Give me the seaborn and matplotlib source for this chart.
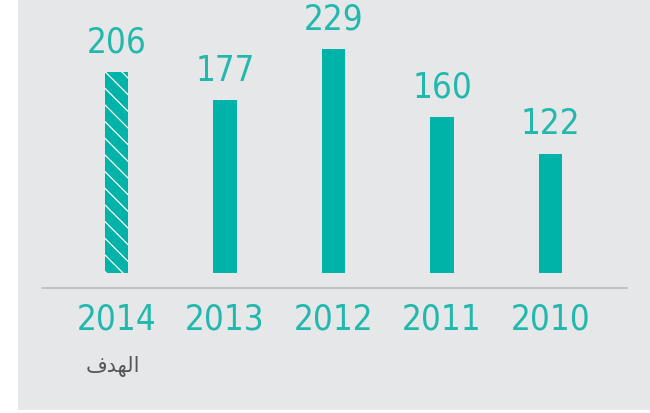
import matplotlib
matplotlib.use("Agg")
import matplotlib.pyplot as plt
import seaborn as sns
import pandas as pd

# data
years = ["2014", "2013", "2012", "2011", "2010"]
values = [206, 177, 229, 160, 122]
target_label = "\uFED1\uFEAA\uFEEC\uFEDF\uFE8D"  # "الهدف" pre-shaped, visual order

bar_color = "#00b3a9"
text_color = "#22b8ad"
panel_color = "#e6e7e9"

sns.set_style("white")
plt.rcParams["font.family"] = ["DejaVu Sans"]
plt.rcParams["hatch.linewidth"] = 0.9

df = pd.DataFrame({"year": years, "value": values})

fig = plt.figure(figsize=(6.5, 4.13), dpi=100, facecolor="white")
ax = fig.add_axes([18 / 650, 3 / 413, 632 / 650, 410 / 413])
ax.set_facecolor(panel_color)

sns.barplot(data=df, x="year", y="value", order=years, color=bar_color,
            saturation=1, width=0.215, linewidth=0, ax=ax)

# first bar (target) is hatched
p0 = ax.patches[0]
p0.set_hatch("\\\\")
p0.set_edgecolor("white")
p0.set_linewidth(0)

num_font = dict(fontsize=25, color=text_color, fontstretch="condensed",
                fontweight="light")

for i, v in enumerate(values):
    ax.annotate(str(v), (i, v), xytext=(0, 9), textcoords="offset points",
                ha="center", va="bottom", **num_font)

ax.set_xlim(-0.908, 4.917)
ax.set_ylim(-140.2, 279.4)

# baseline rule under bars
ax.axhline(-15.4, xmin=0.038, xmax=0.964, color="#b9babc", linewidth=1.2)

for i, y in enumerate(years):
    ax.text(i, -30, y, ha="center", va="top", **num_font)

ax.text(-0.03, -96, target_label, ha="center", va="center", fontsize=15,
        color="#555658", family=["DejaVu Sans"])

ax.set_xticks([])
ax.set_yticks([])
ax.set_xlabel("")
ax.set_ylabel("")
for s in ax.spines.values():
    s.set_visible(False)

fig.savefig("out.png", dpi=100, facecolor="white")
